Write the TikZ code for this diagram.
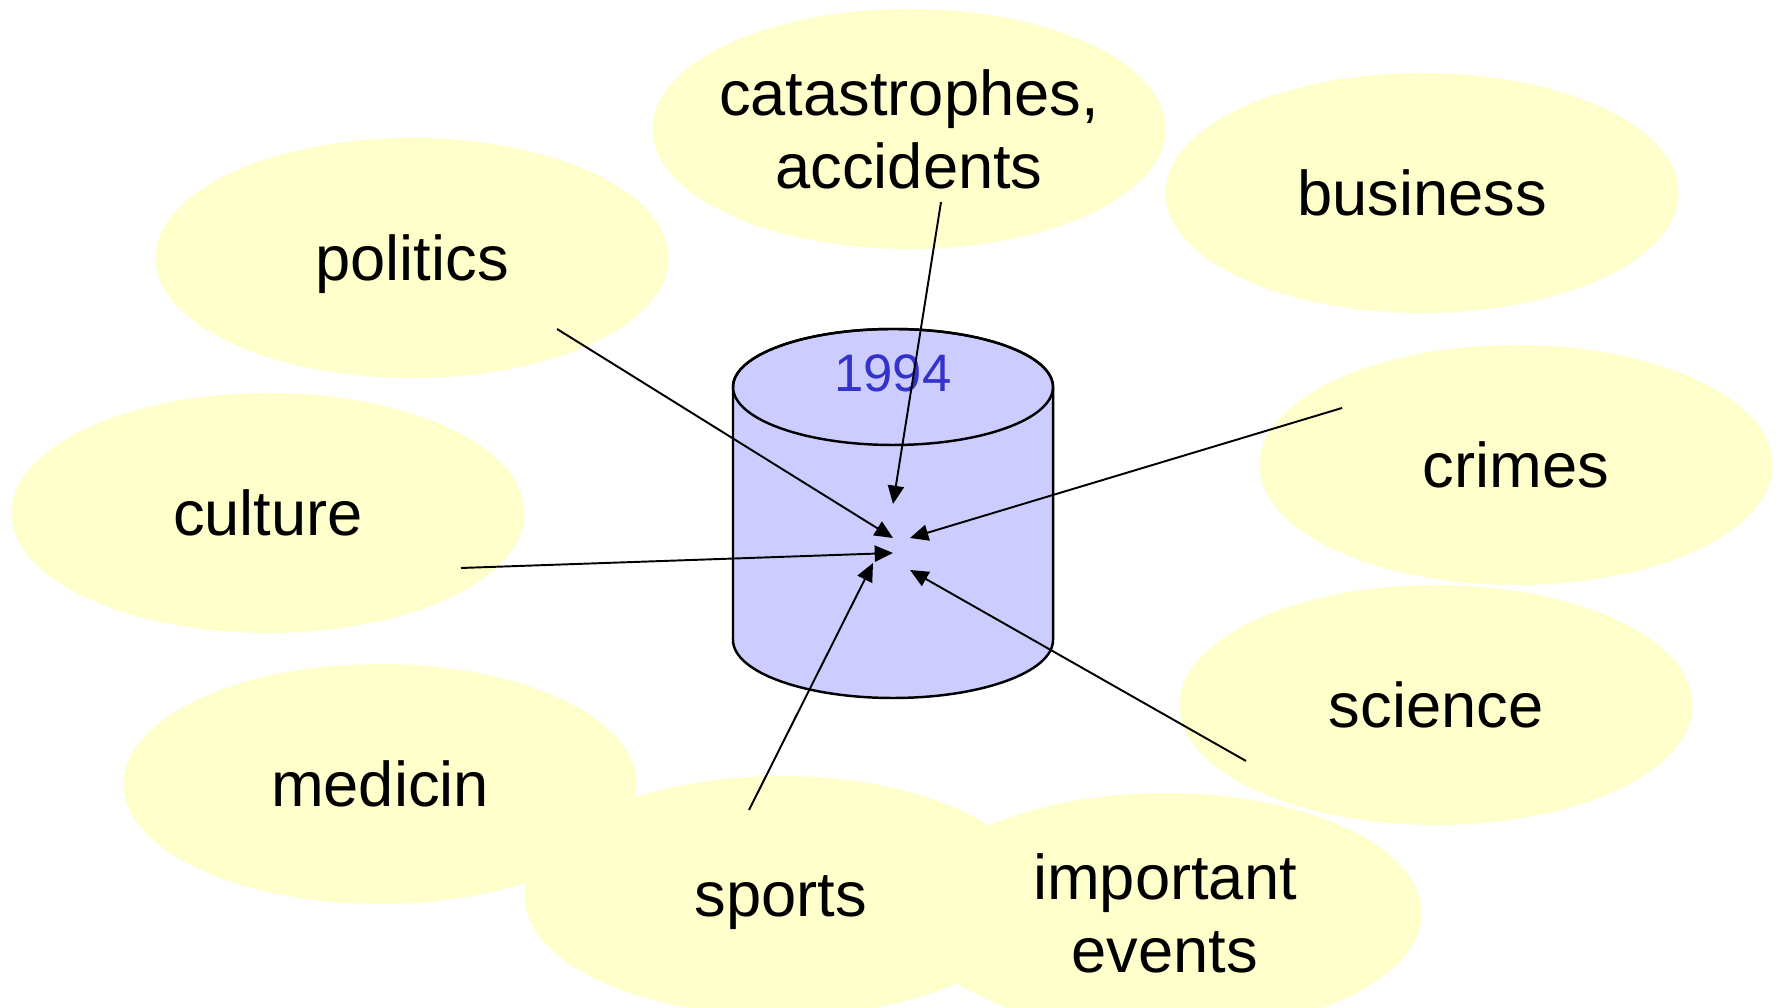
\documentclass[tikz,border=0pt]{standalone}
\usepackage{fontspec}
\setmainfont{Liberation Sans}
\usepackage{xcolor}
\usepackage{tikz}
\usetikzlibrary{shapes.geometric}
\usetikzlibrary{arrows.meta}
\definecolor{topicfill}{HTML}{FFFFCC}
\definecolor{dbfill}{HTML}{CCCCFF}
\definecolor{dbtext}{HTML}{3333CC}
\tikzset{
    topic/.style = {ellipse, fill=topicfill, inner xsep=-0.6cm, inner ysep=0pt,
                    align=center, text depth=0pt,
                    minimum width=5.13cm, minimum height=2.40cm,
                    font=\fontsize{18}{21}\selectfont},
    dbbody/.style = {draw=black, line width=0.7pt, fill=dbfill},
    feed/.style = {-{Triangle[length=5.2pt,width=4.6pt]}, line width=0.55pt, black},
}

\begin{document}
\begin{tikzpicture}
\useasboundingbox (0,0) rectangle (17.79,10.08);
\clip (0,0) rectangle (17.79,10.08);
\tikzset{
    dblabel/.style = {text=dbtext, font=\fontsize{15}{17}\selectfont}
}
\node[topic] at (9.09,8.79) (cat) {catastrophes,\\accidents};
\node[topic] at (14.22,8.15) (bus) {business};
\node[topic] at (4.12,7.50) (pol) {politics};
\node[topic] at (2.68,4.95) (cul) {culture};
\node[topic] at (15.16,5.43) (cri) {crimes};
\node[topic] at (14.36,3.03) (sci) {science};
\node[topic] at (3.80,2.24) (med) {medicin};
\node[topic] at (7.81,1.12) (spo) {sports};
\node[topic] at (11.65,0.95) (evt) {important\\events};
%
% the 1994 database
\draw[dbbody] (7.33,3.68) -- (7.33,6.21)
    arc[start angle=180, end angle=0, x radius=1.60, y radius=0.58]
    -- (10.53,3.68)
    arc[start angle=0, end angle=-180, x radius=1.60, y radius=0.58] -- cycle;
\draw[line width=0.7pt] (8.93,6.21) ellipse [x radius=1.60, y radius=0.58];
\node[dblabel] at (8.93,6.35) (db) {1994};
%
% where the arrows leave the topics
\coordinate (cat-out) at (9.41,8.06);
\coordinate (pol-out) at (5.57,6.79);
\coordinate (cri-out) at (13.42,6.00);
\coordinate (cul-out) at (4.61,4.40);
\coordinate (spo-out) at (7.49,1.98);
\coordinate (evt-out) at (12.46,2.47);
% and where they stop inside the database
\coordinate (cat-in) at (8.93,5.04);
\coordinate (pol-in) at (8.93,4.70);
\coordinate (cri-in) at (9.10,4.70);
\coordinate (cul-in) at (8.93,4.55);
\coordinate (spo-in) at (8.73,4.45);
\coordinate (evt-in) at (9.10,4.38);
%
\draw[feed] (cat-out) -- (cat-in);
\draw[feed] (pol-out) -- (pol-in);
\draw[feed] (cri-out) -- (cri-in);
\draw[feed] (cul-out) -- (cul-in);
\draw[feed] (spo-out) -- (spo-in);
\draw[feed] (evt-out) -- (evt-in);
\end{tikzpicture}
\end{document}
